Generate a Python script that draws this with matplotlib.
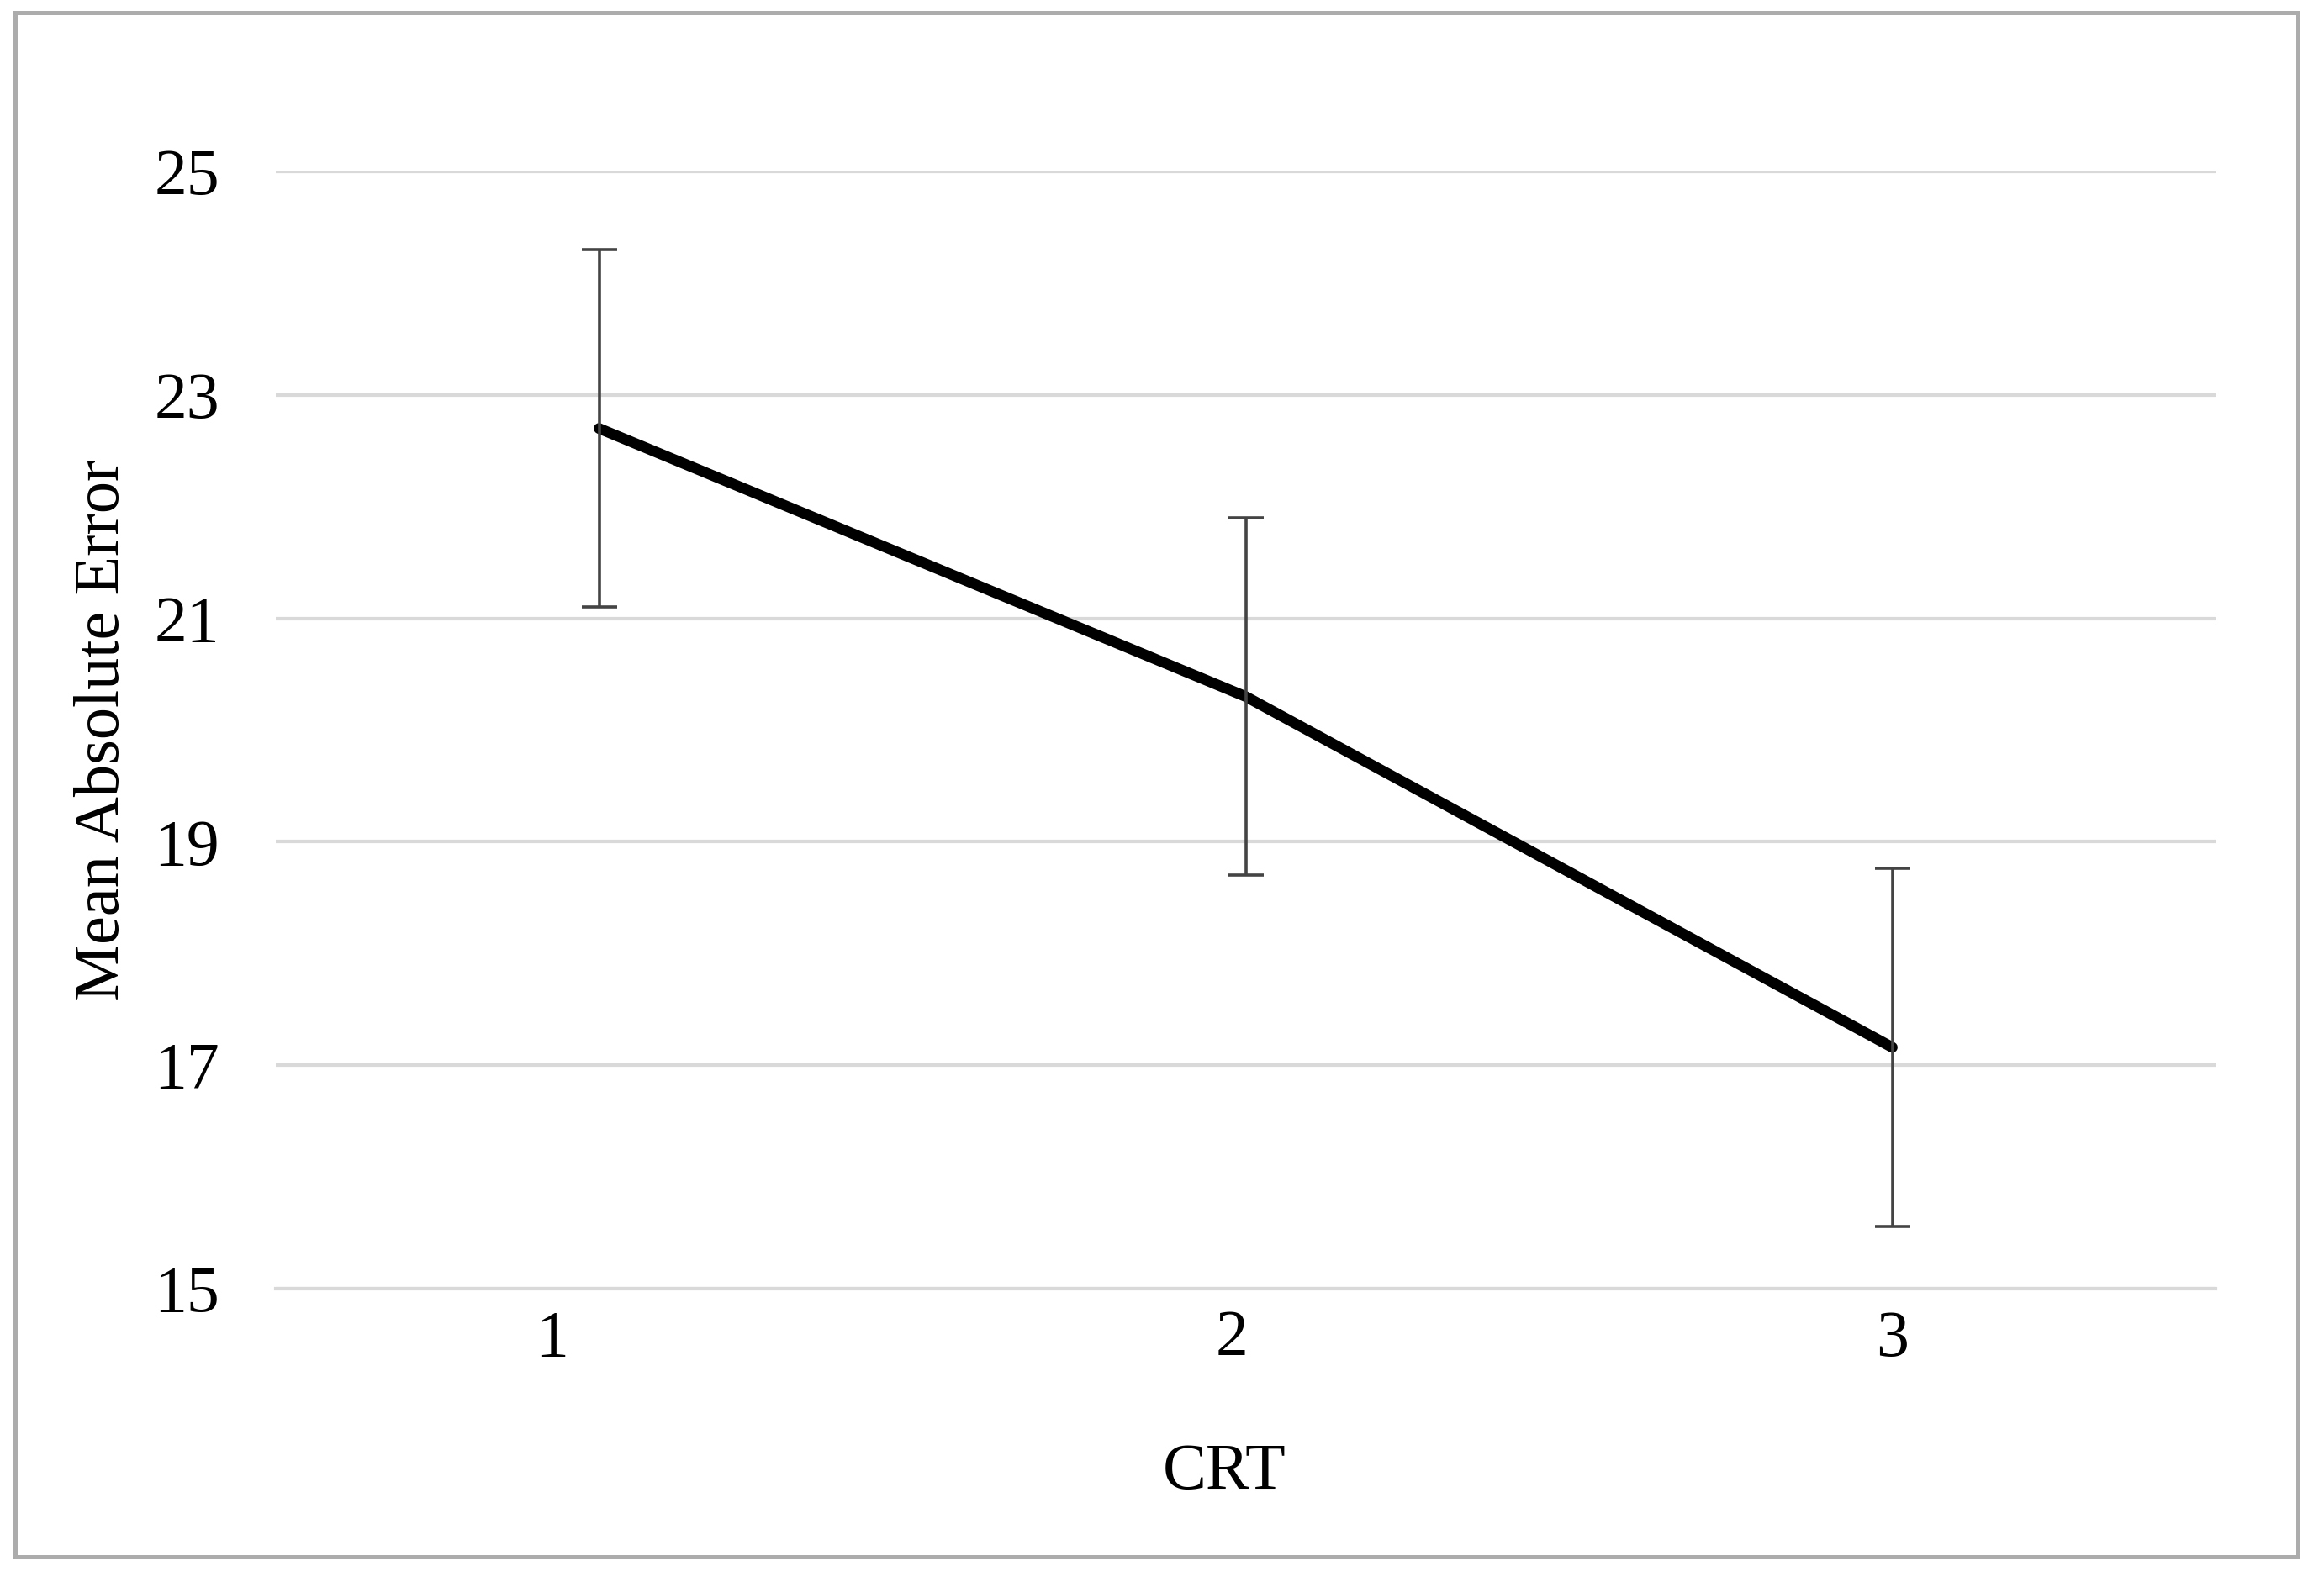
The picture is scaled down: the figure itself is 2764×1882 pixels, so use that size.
import matplotlib
matplotlib.use("Agg")
import matplotlib.pyplot as plt
from matplotlib.patches import Rectangle
from matplotlib.transforms import ScaledTranslation

# ---- data ----
categories = ["1", "2", "3"]
mean_abs_error = [22.70, 20.30, 17.16]
error_margin = [1.60, 1.60, 1.60]
y_ticks = [15, 17, 19, 21, 23, 25]
x_label = "CRT"
y_label = "Mean Absolute Error"

plt.rcParams['font.family'] = ['Liberation Serif', 'DejaVu Serif']

W, H = 2764, 1882
DPI = 200
fig = plt.figure(figsize=(W / DPI, H / DPI), dpi=DPI)
fig.patch.set_facecolor("white")

# plot area in pixels
left_px, right_px, top_px, bottom_px = 328, 2635, 204, 1533
ax = fig.add_axes([left_px / W, 1 - bottom_px / H,
                   (right_px - left_px) / W, (bottom_px - top_px) / H])

x = list(range(1, len(categories) + 1))
ax.plot(x, mean_abs_error, color="black", lw=4.6, solid_capstyle="round",
        solid_joinstyle="round", zorder=3)
ax.errorbar(x, mean_abs_error, yerr=error_margin, fmt="none",
            ecolor="#444444", elinewidth=1.3, capsize=7.5, capthick=1.3,
            zorder=4)

ax.set_xlim(0.5, len(categories) + 0.5)
ax.set_ylim(15, 25)
ax.set_yticks(y_ticks)
ax.set_yticklabels([str(t) for t in y_ticks])
ax.set_xticks(x)
ax.set_xticklabels(categories)

ax.yaxis.grid(True, color="#d9d9d9", lw=1.5)
ax.set_axisbelow(True)
for s in ax.spines.values():
    s.set_visible(False)
ax.spines["bottom"].set_visible(True)
ax.spines["bottom"].set_color("#d9d9d9")
ax.spines["bottom"].set_linewidth(1.5)

ax.tick_params(axis="both", length=0, labelsize=28, colors="black")
ax.tick_params(axis="y", pad=24)
ax.tick_params(axis="x", pad=9)

# x tick label offsets (as in reference)
label_shift_pts = [-20, -6, 0]
for lab, dx in zip(ax.get_xticklabels(), label_shift_pts):
    lab.set_transform(lab.get_transform() + ScaledTranslation(dx / 72, 0, fig.dpi_scale_trans))

fig.text(1456 / W, 1 - 1752 / H, x_label, ha="center", va="center", fontsize=28)
fig.text(123 / W, 1 - 869 / H, y_label, ha="center", va="center",
         rotation=90, fontsize=27.5)

# outer frame
frame = Rectangle((18 / W, 1 - 1852 / H), (2733 - 18) / W, (1852 - 15) / H,
                  transform=fig.transFigure, fill=False,
                  edgecolor="#acacac", lw=1.8, zorder=10)
fig.patches.append(frame)

fig.savefig("out.png", dpi=DPI, facecolor="white")
